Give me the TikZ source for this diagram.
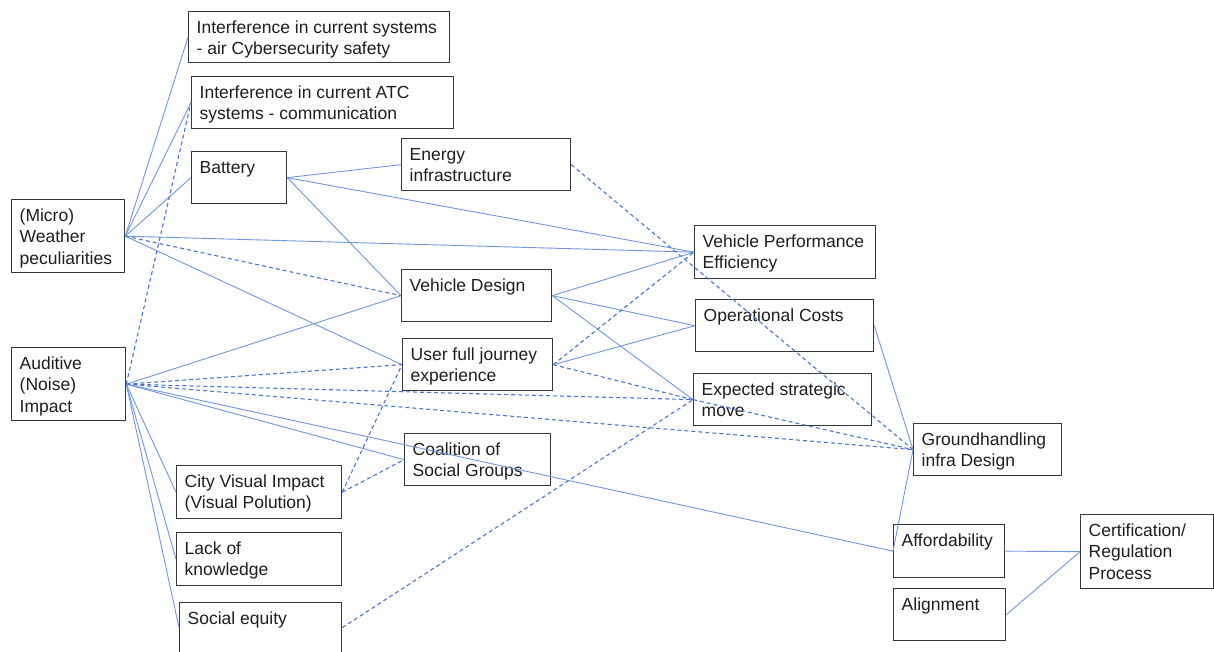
\documentclass[tikz,border=0pt]{standalone}
\usepackage{fontspec}
\setmainfont{Liberation Sans}
\begin{document}
\begin{tikzpicture}[x=1pt,y=-1pt,
  box/.style={draw={rgb,255:red,55;green,55;blue,55}, line width=1.3pt, inner sep=0pt, anchor=north west},
  lbl/.style={anchor=base west, inner sep=0pt, text={rgb,255:red,30;green,30;blue,30},
    font=\fontsize{17.5}{21.5}\selectfont},
  link/.style={draw={rgb,255:red,112;green,150;blue,226}, line width=0.9pt},
  dlink/.style={draw={rgb,255:red,72;green,118;blue,214}, line width=1.1pt, dash pattern=on 4pt off 3pt}]
\useasboundingbox (0,0) rectangle (1214,651);

% \mkbox{name}{x1}{y1}{x2}{y2}{text}
\newcommand{\mkbox}[6]{%
  \node[box, minimum width=#4-#2, minimum height=#5-#3] (#1) at (#2,#3) {};
  \node[lbl] (#1-t) at (#2+8.5,#3+22) {\begin{tabular}[t]{@{}l@{}}#6\end{tabular}};
}

\mkbox{int1}{188}{11}{449}{62}{Interference in current systems\\- air Cybersecurity safety}
\mkbox{int2}{191}{76}{453}{128}{Interference in current ATC\\systems - communication}
\mkbox{bat}{191}{151}{286}{203}{Battery}
\mkbox{wea}{11}{199}{124}{272}{(Micro)\\Weather\\peculiarities}
\mkbox{aud}{11}{347}{125}{420}{Auditive\\(Noise)\\Impact}
\mkbox{ene}{401}{138}{570}{190}{Energy\\infrastructure}
\mkbox{vd}{401}{269}{551}{321}{Vehicle Design}
\mkbox{ufj}{402}{338}{552}{390}{User full journey\\experience}
\mkbox{coa}{404}{433}{550}{485}{Coalition of\\Social Groups}
\mkbox{cvi}{176}{465}{341}{518}{City Visual Impact\\(Visual Polution)}
\mkbox{lok}{176}{532}{341}{585}{Lack of\\knowledge}
\mkbox{seq}{179}{602}{341}{652}{Social equity}
\mkbox{vpe}{694}{225}{875}{278}{Vehicle Performance\\Efficiency}
\mkbox{opc}{695}{299}{873}{351}{Operational Costs}
\mkbox{esm}{693}{373}{871}{425}{Expected strategic\\move}
\mkbox{gh}{913}{423}{1061}{475}{Groundhandling\\infra Design}
\mkbox{aff}{893}{524}{1004}{577}{Affordability}
\mkbox{ali}{893}{588}{1005}{640}{Alignment}
\mkbox{cer}{1080}{514}{1213}{588}{Certification/\\Regulation\\Process}

% weather links
\draw[link] (wea.east) -- (int1.west);
\draw[link] (wea.east) -- (int2.west);
\draw[link] (wea.east) -- (bat.west);
\draw[link] (wea.east) -- (vpe.west);
\draw[link] (wea.east) -- (ufj.west);
\draw[dlink] (wea.east) -- (vd.west);

% battery and energy
\draw[link] (bat.east) -- (ene.west);
\draw[link] (bat.east) -- (vpe.west);
\draw[link] (bat.east) -- (vd.west);
\draw[dlink] (ene.east) -- (gh.west);

% noise links
\draw[dlink] (aud.east) -- (int2.west);
\draw[link] (aud.east) -- (vd.west);
\draw[link] (aud.east) -- (coa.west);
\draw[link] (aud.east) -- (aff.west);
\draw[link] (aud.east) -- (cvi.west);
\draw[link] (aud.east) -- (lok.west);
\draw[link] (aud.east) -- (seq.west);
\draw[dlink] (aud.east) -- (ufj.west);
\draw[dlink] (aud.east) -- (esm.west);
\draw[dlink] (aud.east) -- (gh.west);

% visual impact and equity
\draw[dlink] (cvi.east) -- (ufj.west);
\draw[dlink] (cvi.east) -- (coa.west);
\draw[dlink] (seq.east) -- (esm.west);

% vehicle design and journey
\draw[link] (vd.east) -- (vpe.west);
\draw[link] (vd.east) -- (opc.west);
\draw[link] (vd.east) -- (esm.west);
\draw[dlink] (ufj.east) -- (vpe.west);
\draw[link] (ufj.east) -- (opc.west);
\draw[dlink] (ufj.east) -- (esm.west);
\draw[dlink] (esm.west) -- (gh.west);

% right-hand side
\draw[link] (opc.east) -- (gh.west);
\draw[link] (gh.west) -- (aff.west);
\draw[link] (aff.east) -- (cer.west);
\draw[link] (ali.east) -- (cer.west);
\end{tikzpicture}
\end{document}
